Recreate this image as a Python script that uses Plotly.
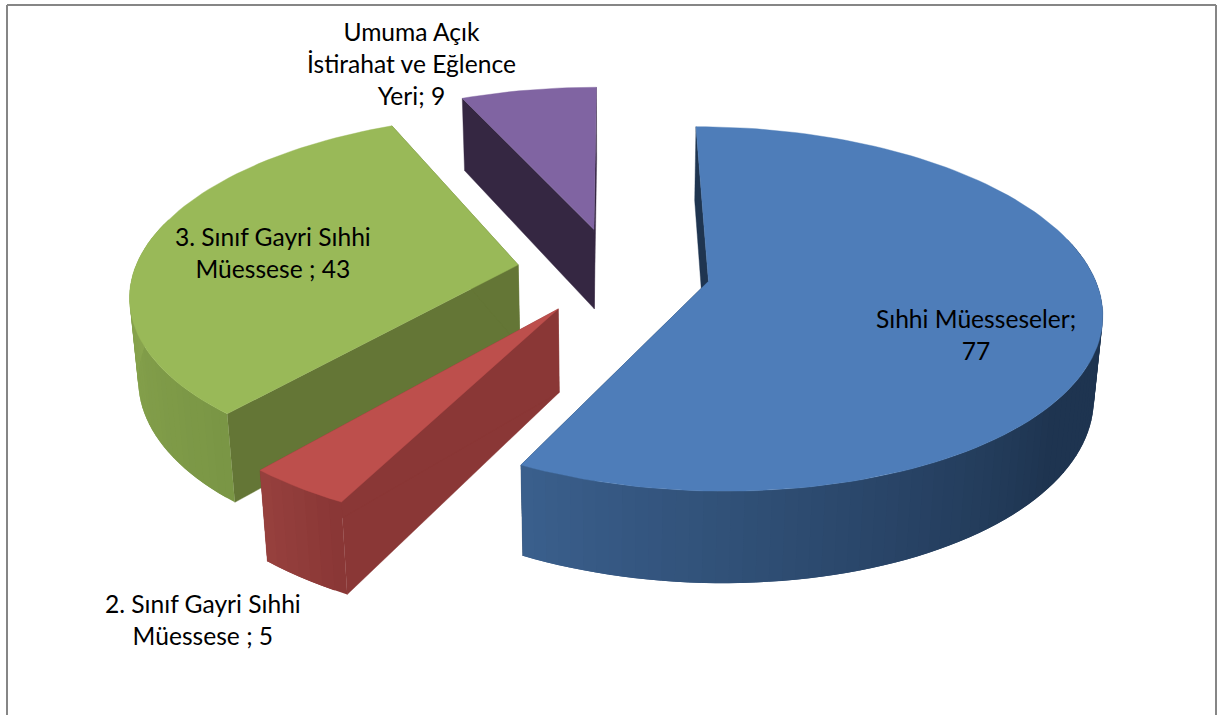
import math
import plotly.graph_objects as go

categories = ["Sıhhi Müesseseler", "2. Sınıf Gayri Sıhhi Müessese ", "3. Sınıf Gayri Sıhhi Müessese ", "Umuma Açık İstirahat ve Eğlence Yeri"]
values = [77, 5, 43, 9]
explode = [0.252, 0.252, 0.252, 0.252]
top_colors = ["#4E7DB9", "#BD4F4C", "#99B958", "#8064A2"]
radial_colors = ["#1F3550", "#8A3736", "#647636", "#352742"]
arc_start = ["#3A5F8C", "#96403D", "#8CA850", "#6B5488"]
arc_end = ["#1E3450", "#8A3736", "#7A9645", "#5A4672"]
arc_delay = [0.4, 0, 0, 0]
label_text = ["Sıhhi Müesseseler;<br>77", "2. Sınıf Gayri Sıhhi<br>Müessese ; 5", "3. Sınıf Gayri Sıhhi<br>Müessese ; 43", "Umuma Açık<br>İstirahat ve Eğlence<br>Yeri; 9"]
label_px = [(976, 334), (203, 619), (273, 252), (411, 63)]

CX, CY, A, B, K, H, M = 613.5, 271, 384, 175, 0.15, 83, 0.018

def proj(X, V, z):
    w = 1 / (1 + K * V + M * z)
    return CX + X * A * w, CY - B * V * w + H * z * w

def hexrgb(c):
    return [int(c[i:i + 2], 16) for i in (1, 3, 5)]

def mix(a, b, t):
    p, q = hexrgb(a), hexrgb(b)
    return "#%02X%02X%02X" % tuple(round(p[i] + (q[i] - p[i]) * t) for i in range(3))

fig = go.Figure()

def poly(pts, color, lw=0.0):
    xs = [p[0] for p in pts] + [pts[0][0]]
    ys = [p[1] for p in pts] + [pts[0][1]]
    fig.add_trace(go.Scatter(x=xs, y=ys, mode="lines", fill="toself", fillcolor=color,
                             line=dict(color=color, width=lw), hoverinfo="skip", showlegend=False))

total = sum(values)
spans = []
a0 = 0.0
for v in values:
    a1 = a0 + v / total * 2 * math.pi
    spans.append((a0, a1))
    a0 = a1

for i in [3, 2, 1, 0]:
    a0, a1 = spans[i]
    mid = (a0 + a1) / 2
    ox, oy = explode[i] * math.sin(mid), explode[i] * math.cos(mid)
    n = max(6, int((a1 - a0) / 0.03))
    angs = [a0 + (a1 - a0) * j / n for j in range(n + 1)]
    rim = [(ox + math.sin(t), oy + math.cos(t)) for t in angs]
    for X, V in (rim[0], rim[-1]):
        poly([proj(ox, oy, 0), proj(X, V, 0), proj(X, V, 1), proj(ox, oy, 1)], radial_colors[i], 0.4)
    vis = [j for j in range(n) if math.cos((angs[j] + angs[j + 1]) / 2) < 0.25]
    for j in vis:
        t = (j - vis[0]) / max(1, len(vis) - 1)
        t = max(0.0, (t - arc_delay[i]) / (1 - arc_delay[i]))
        c = mix(arc_end[i], arc_start[i], t)
        k = min(j + 2, n)
        strip = [proj(rim[q][0], rim[q][1], 0) for q in range(j, k + 1)] + \
                [proj(rim[q][0], rim[q][1], 1) for q in range(k, j - 1, -1)]
        poly(strip, c)
    poly([proj(ox, oy, 0)] + [proj(X, V, 0) for X, V in rim], top_colors[i], 0.4)

for t, (x, y) in zip(label_text, label_px):
    fig.add_annotation(x=x, y=y, xref="x", yref="y", text=t, showarrow=False, align="center",
                       font=dict(family="Lato", size=24.6, color="#000000"))

frame = dict(type="line", xref="x", yref="y", line=dict(color="#868686", width=2))
fig.add_shape(x0=7, x1=7, y0=5, y1=715, **frame)
fig.add_shape(x0=7, x1=1216, y0=5, y1=5, **frame)
fig.add_shape(x0=1216, x1=1216, y0=5, y1=715, **frame)

fig.update_layout(width=1217, height=715, margin=dict(l=0, r=0, t=0, b=0), paper_bgcolor="white",
                  plot_bgcolor="white", showlegend=False,
                  xaxis=dict(range=[0, 1217], visible=False, fixedrange=True),
                  yaxis=dict(range=[715, 0], visible=False, fixedrange=True))
fig.write_html("out.html", config=dict(displayModeBar=False),
               post_script="document.body.style.margin='0';document.body.style.overflow='hidden';")
